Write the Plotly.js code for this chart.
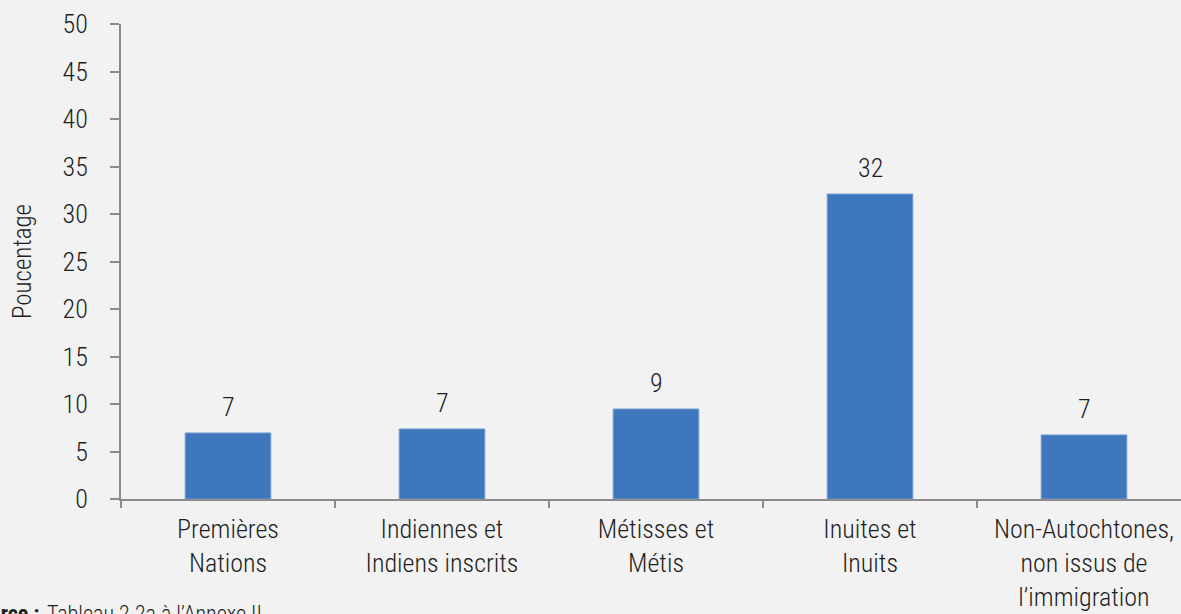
<!DOCTYPE html>
<html>
<head>
<meta charset="utf-8">
<script src="https://cdn.plot.ly/plotly-3.0.1.min.js"></script>
<style>
html,body{margin:0;padding:0;background:#f2f2f2;overflow:hidden;}
#chart{width:1191px;height:614px;}
</style>
</head>
<body>
<div id="chart"></div>
<script>
const categories = [
  "Premières<br>Nations",
  "Indiennes et<br>Indiens inscrits",
  "Métisses et<br>Métis",
  "Inuites et<br>Inuits",
  "Non-Autochtones,<br>non issus de<br>l’immigration"
];
const values = [6.95, 7.37, 9.47, 32.1, 6.74];
const valueLabels = ["7", "7", "9", "32", "7"];
const yTicks = [0, 5, 10, 15, 20, 25, 30, 35, 40, 45, 50];
const yTitle = "Poucentage";
const sourceLabel = "<b>Source :</b>";
const sourceText = "Tableau 2.2a à l’Annexe II";

const FONT = "'Roboto Condensed', Roboto, sans-serif";
const TXT = "#1e1e1e";

const trace = {
  type: "bar",
  x: categories,
  y: values,
  marker: {color: "#3f77bc", line: {color: "#6f9bd1", width: 1}},
  hoverinfo: "none"
};

const valueAnnotations = categories.map((c, i) => ({
  x: c,
  y: values[i],
  xref: "x", yref: "y",
  text: valueLabels[i],
  xanchor: "center", yanchor: "bottom",
  yshift: 9,
  showarrow: false,
  font: {family: FONT, size: 26, color: TXT, weight: 300}
}));

const layout = {
  width: 1191,
  height: 614,
  paper_bgcolor: "#f2f2f2",
  plot_bgcolor: "#f2f2f2",
  margin: {l: 120.5, r: 0, t: 24, b: 115},
  bargap: 0.6,
  showlegend: false,
  font: {family: FONT, size: 25, color: TXT, weight: 300},
  xaxis: {
    type: "category",
    showline: true,
    linecolor: "#8c8c8c",
    linewidth: 2,
    ticks: "outside",
    tickson: "boundaries",
    ticklen: 7,
    tickwidth: 2,
    tickcolor: "#8c8c8c",
    showgrid: false,
    zeroline: false,
    ticklabelstandoff: 6,
    tickfont: {family: FONT, size: 26, color: TXT, weight: 300},
    fixedrange: true
  },
  yaxis: {
    range: [0, 50],
    tickvals: yTicks,
    ticktext: yTicks.map(String),
    showline: true,
    linecolor: "#8c8c8c",
    linewidth: 2,
    ticks: "outside",
    ticklen: 9,
    tickwidth: 2,
    tickcolor: "#8c8c8c",
    showgrid: false,
    zeroline: false,
    ticklabelstandoff: 17,
    tickfont: {family: FONT, size: 26, color: TXT, weight: 300},
    title: {text: yTitle, font: {family: FONT, size: 25, color: TXT, weight: 300}, standoff: 24},
    fixedrange: true
  },
  annotations: valueAnnotations.concat([
    {
      text: sourceLabel,
      xref: "paper", yref: "paper",
      x: (40 - 120.5) / 1070, y: -0.241,
      xanchor: "right", yanchor: "middle",
      showarrow: false,
      font: {family: FONT, size: 22, color: TXT}
    },
    {
      text: sourceText,
      xref: "paper", yref: "paper",
      x: (44 - 120.5) / 1070, y: -0.241,
      xanchor: "left", yanchor: "middle",
      showarrow: false,
      font: {family: FONT, size: 22, color: TXT, weight: 300}
    }
  ])
};

Plotly.newPlot("chart", [trace], layout, {displayModeBar: false, staticPlot: true});
</script>
</body>
</html>
